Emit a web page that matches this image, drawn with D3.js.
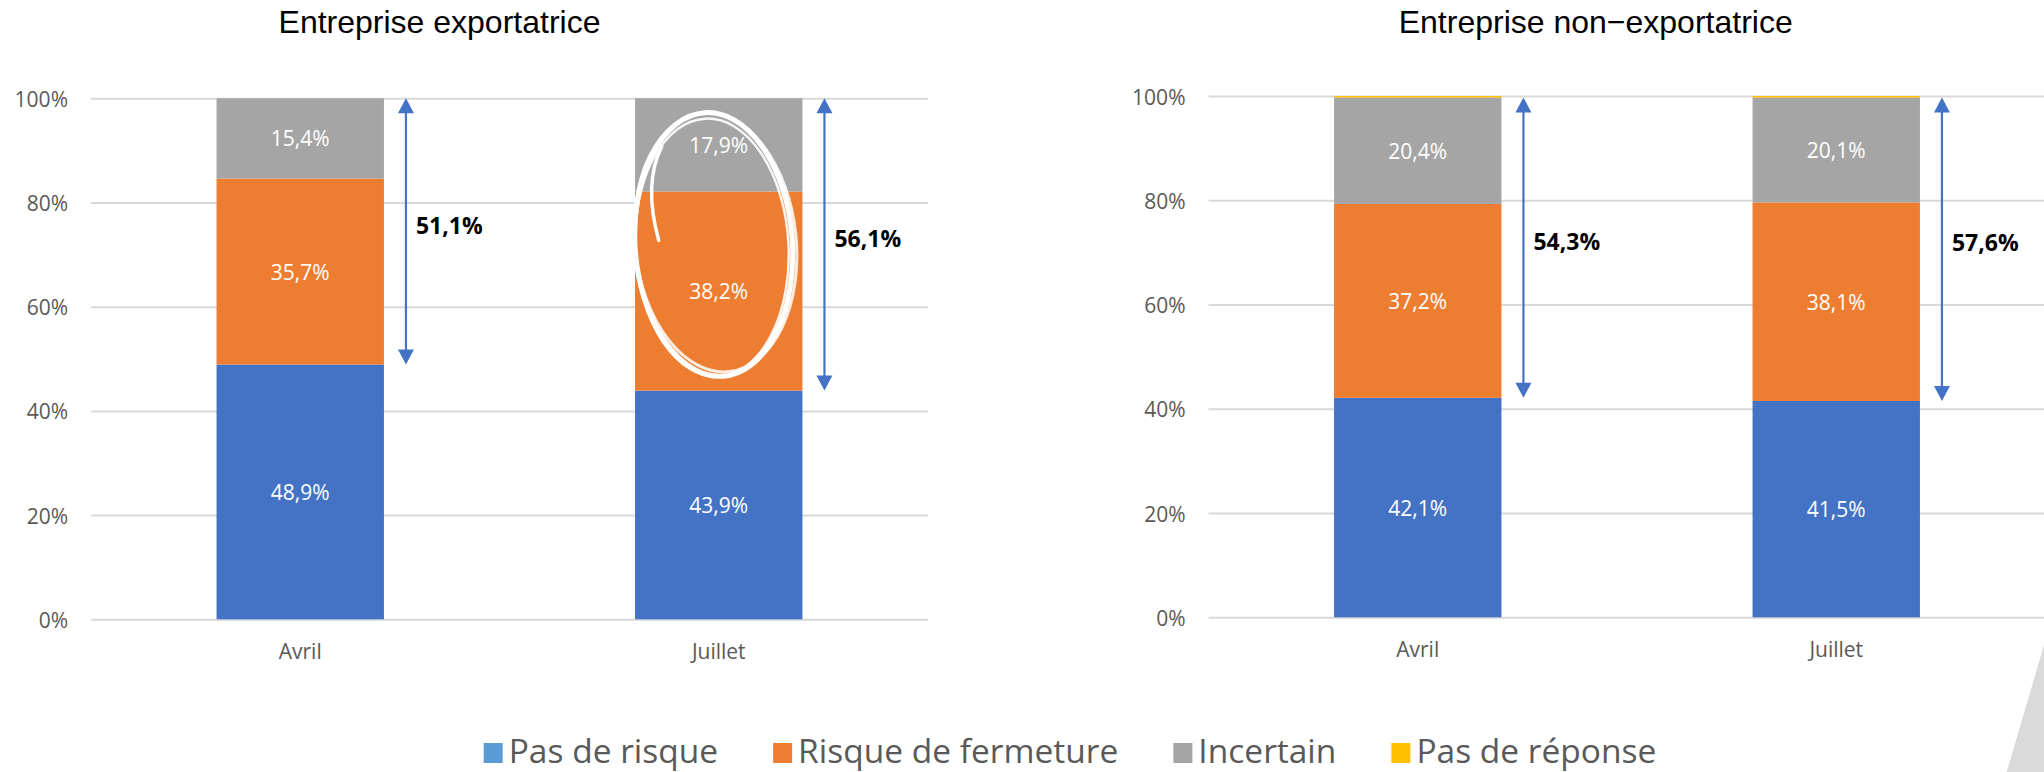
<!DOCTYPE html>
<html>
<head>
<meta charset="utf-8">
<script src="https://cdn.jsdelivr.net/npm/d3@7"></script>
<style>
  html, body { margin: 0; padding: 0; background: #fff; }
  svg { display: block; }
</style>
</head>
<body>
<svg id="chart" width="2044" height="772"></svg>
<script>
// ---------- DATA ----------
const categories = ["Avril", "Juillet"];
const seriesNames = ["Pas de risque", "Risque de fermeture", "Incertain", "Pas de réponse"];

const exportPasDeRisque   = [48.9, 43.9];
const exportRisque        = [35.7, 38.2];
const exportIncertain     = [15.4, 17.9];
const exportSansReponse   = [0.0, 0.0];
const exportArrowLabels   = ["51,1%", "56,1%"];

const nonExportPasDeRisque = [42.1, 41.5];
const nonExportRisque      = [37.2, 38.1];
const nonExportIncertain   = [20.4, 20.1];
const nonExportSansReponse = [0.3, 0.3];
const nonExportArrowLabels = ["54,3%", "57,6%"];

const tickValues = [0, 20, 40, 60, 80, 100];
const titles = ["Entreprise exportatrice", "Entreprise non\u2212exportatrice"];

// ---------- STYLE ----------
const colors = ["#4472C4", "#ED7D31", "#A5A5A5", "#FFC000"];
const legendColors = ["#5B9BD5", "#ED7D31", "#A5A5A5", "#FFC000"];
const labelFont = "'Open Sans', 'Noto Sans', sans-serif";
const titleFont = "'Liberation Sans', Arial, sans-serif";
const gridColor = "#D9D9D9";
const textGray = "#595959";
const arrowColor = "#4472C4";

const locale = d3.formatLocale({decimal: ",", thousands: " ", grouping: [3], currency: ["", " €"]});
const fmt1 = locale.format(".1f");

const svg = d3.select("#chart");

const panels = [
  { title: titles[0], titleX: 439.5, x0: 91,     x1: 928,    yBottom: 619.3, yTop: 98.3,
    series: [exportPasDeRisque, exportRisque, exportIncertain, exportSansReponse],
    arrowLabels: exportArrowLabels, circled: 1 },
  { title: titles[1], titleX: 1595.7, x0: 1208.5, x1: 2045.5, yBottom: 617.3, yTop: 96,
    series: [nonExportPasDeRisque, nonExportRisque, nonExportIncertain, nonExportSansReponse],
    arrowLabels: nonExportArrowLabels, circled: -1 }
];

panels.forEach(p => {
  const g = svg.append("g");
  const x = d3.scaleBand().domain(categories).range([p.x0, p.x1])
    .paddingInner(0.6).paddingOuter(0.3);
  const y = d3.scaleLinear().domain([0, 100]).range([p.yBottom, p.yTop]);
  const bw = x.bandwidth();

  // grid + y axis
  const axis = d3.axisLeft(y).tickValues(tickValues)
    .tickSize(-(p.x1 - p.x0)).tickPadding(23).tickFormat(d => d + "%");
  const ax = g.append("g").attr("transform", `translate(${p.x0},0)`).call(axis);
  ax.select(".domain").remove();
  ax.selectAll(".tick line").attr("stroke", gridColor).attr("stroke-width", 2);
  ax.selectAll(".tick text").attr("fill", textGray).attr("font-family", labelFont)
    .attr("font-size", 21).attr("dy", null).attr("dominant-baseline", "central");

  // stacked data
  const rows = categories.map((c, i) => {
    const r = { cat: c };
    seriesNames.forEach((s, k) => r[s] = p.series[k][i]);
    return r;
  });
  const stacked = d3.stack().keys(seriesNames)(rows);

  stacked.forEach((layer, k) => {
    g.append("g").selectAll("rect").data(layer).join("rect")
      .attr("x", d => x(d.data.cat))
      .attr("y", d => y(d[1]))
      .attr("width", bw)
      .attr("height", d => Math.max(0, y(d[0]) - y(d[1])))
      .attr("fill", colors[k]);
    if (k < 3) {
      g.append("g").selectAll("text").data(layer).join("text")
        .attr("x", d => x(d.data.cat) + bw / 2)
        .attr("y", d => y((d[0] + d[1]) / 2))
        .attr("dominant-baseline", "central")
        .attr("text-anchor", "middle")
        .attr("fill", "#fff")
        .attr("font-family", labelFont)
        .attr("font-size", 21)
        .text(d => fmt1(d[1] - d[0]) + "%");
    }
  });

  // category labels
  g.append("g").selectAll("text").data(categories).join("text")
    .attr("x", d => x(d) + bw / 2)
    .attr("y", y(0) + 40)
    .attr("text-anchor", "middle")
    .attr("fill", textGray)
    .attr("font-family", labelFont)
    .attr("font-size", 21)
    .text(d => d);

  // arrows
  const topLayer = stacked[2];
  const baseLayer = stacked[0];
  categories.forEach((c, i) => {
    const ax0 = x(c) + bw + 22;
    const yT = y(topLayer[i][1]);
    const yB = y(baseLayer[i][1]);
    const hw = 8, hl = 15;
    g.append("line").attr("x1", ax0).attr("x2", ax0)
      .attr("y1", yT + hl - 1).attr("y2", yB - hl + 1)
      .attr("stroke", arrowColor).attr("stroke-width", 2.2);
    g.append("path").attr("d", `M${ax0},${yT} L${ax0 - hw},${yT + hl} L${ax0 + hw},${yT + hl} Z`)
      .attr("fill", arrowColor);
    g.append("path").attr("d", `M${ax0},${yB} L${ax0 - hw},${yB - hl} L${ax0 + hw},${yB - hl} Z`)
      .attr("fill", arrowColor);
    const mid = (topLayer[i][1] + baseLayer[i][1]) / 2 + 1.3;
    g.append("text").attr("x", ax0 + 10).attr("y", y(mid))
      .attr("dominant-baseline", "central")
      .attr("font-family", labelFont).attr("font-weight", "bold")
      .attr("font-size", 23).attr("fill", "#000")
      .text(p.arrowLabels[i]);
  });

  // hand-drawn highlight
  if (p.circled >= 0) {
    const c = categories[p.circled];
    const cx = x(c) + bw / 2 - 5;
    const yt = y(97.3), yb = y(46.6);
    const cy = (yt + yb) / 2, ry = (yb - yt) / 2, rx = bw * 0.47;
    const hl = g.append("g").attr("fill", "none").attr("stroke", "#fff").attr("stroke-linecap", "round");
    [[0, 0, -4, 5, 1], [2, -2, -6, 3, 0.85], [-2, 3, -3, 2.5, 0.9]].forEach(([dx, dy, rot, sw, op]) => {
      hl.append("ellipse").attr("cx", cx + dx).attr("cy", cy + dy)
        .attr("rx", rx + dx).attr("ry", ry - Math.abs(dy))
        .attr("transform", `rotate(${rot},${cx},${cy})`)
        .attr("stroke-width", sw).attr("opacity", op);
    });
    hl.append("path")
      .attr("d", `M${cx - 52},${yt + 34} C${cx - 70},${yt + 70} ${cx - 60},${yt + 110} ${cx - 55},${yt + 128}`)
      .attr("stroke-width", 3.5);
  }

  // title
  svg.append("text").attr("x", p.titleX).attr("y", 33.3)
    .attr("text-anchor", "middle").attr("font-family", titleFont)
    .attr("font-size", 32).attr("fill", "#000").text(p.title);
});

// legend
const leg = svg.append("g");
const items = leg.selectAll("g").data(seriesNames).join("g");
items.append("rect").attr("width", 19).attr("height", 20).attr("y", -20)
  .attr("fill", (d, i) => legendColors[i]);
items.append("text").attr("x", 25).attr("y", 0)
  .attr("font-family", labelFont).attr("font-size", 33.5).attr("fill", textGray)
  .text(d => d);
let cursor = 0;
items.each(function () {
  const tw = d3.select(this).select("text").node().getComputedTextLength();
  d3.select(this).attr("transform", `translate(${cursor},0)`);
  cursor += 25 + tw + 55;
});
const totalW = cursor - 55;
leg.attr("transform", `translate(${1070 - totalW / 2},763)`);

// decorative slide corner
svg.append("path").attr("d", "M2044,645 L2044,772 L2006.7,772 Z").attr("fill", "#DADADA");
</script>
</body>
</html>
